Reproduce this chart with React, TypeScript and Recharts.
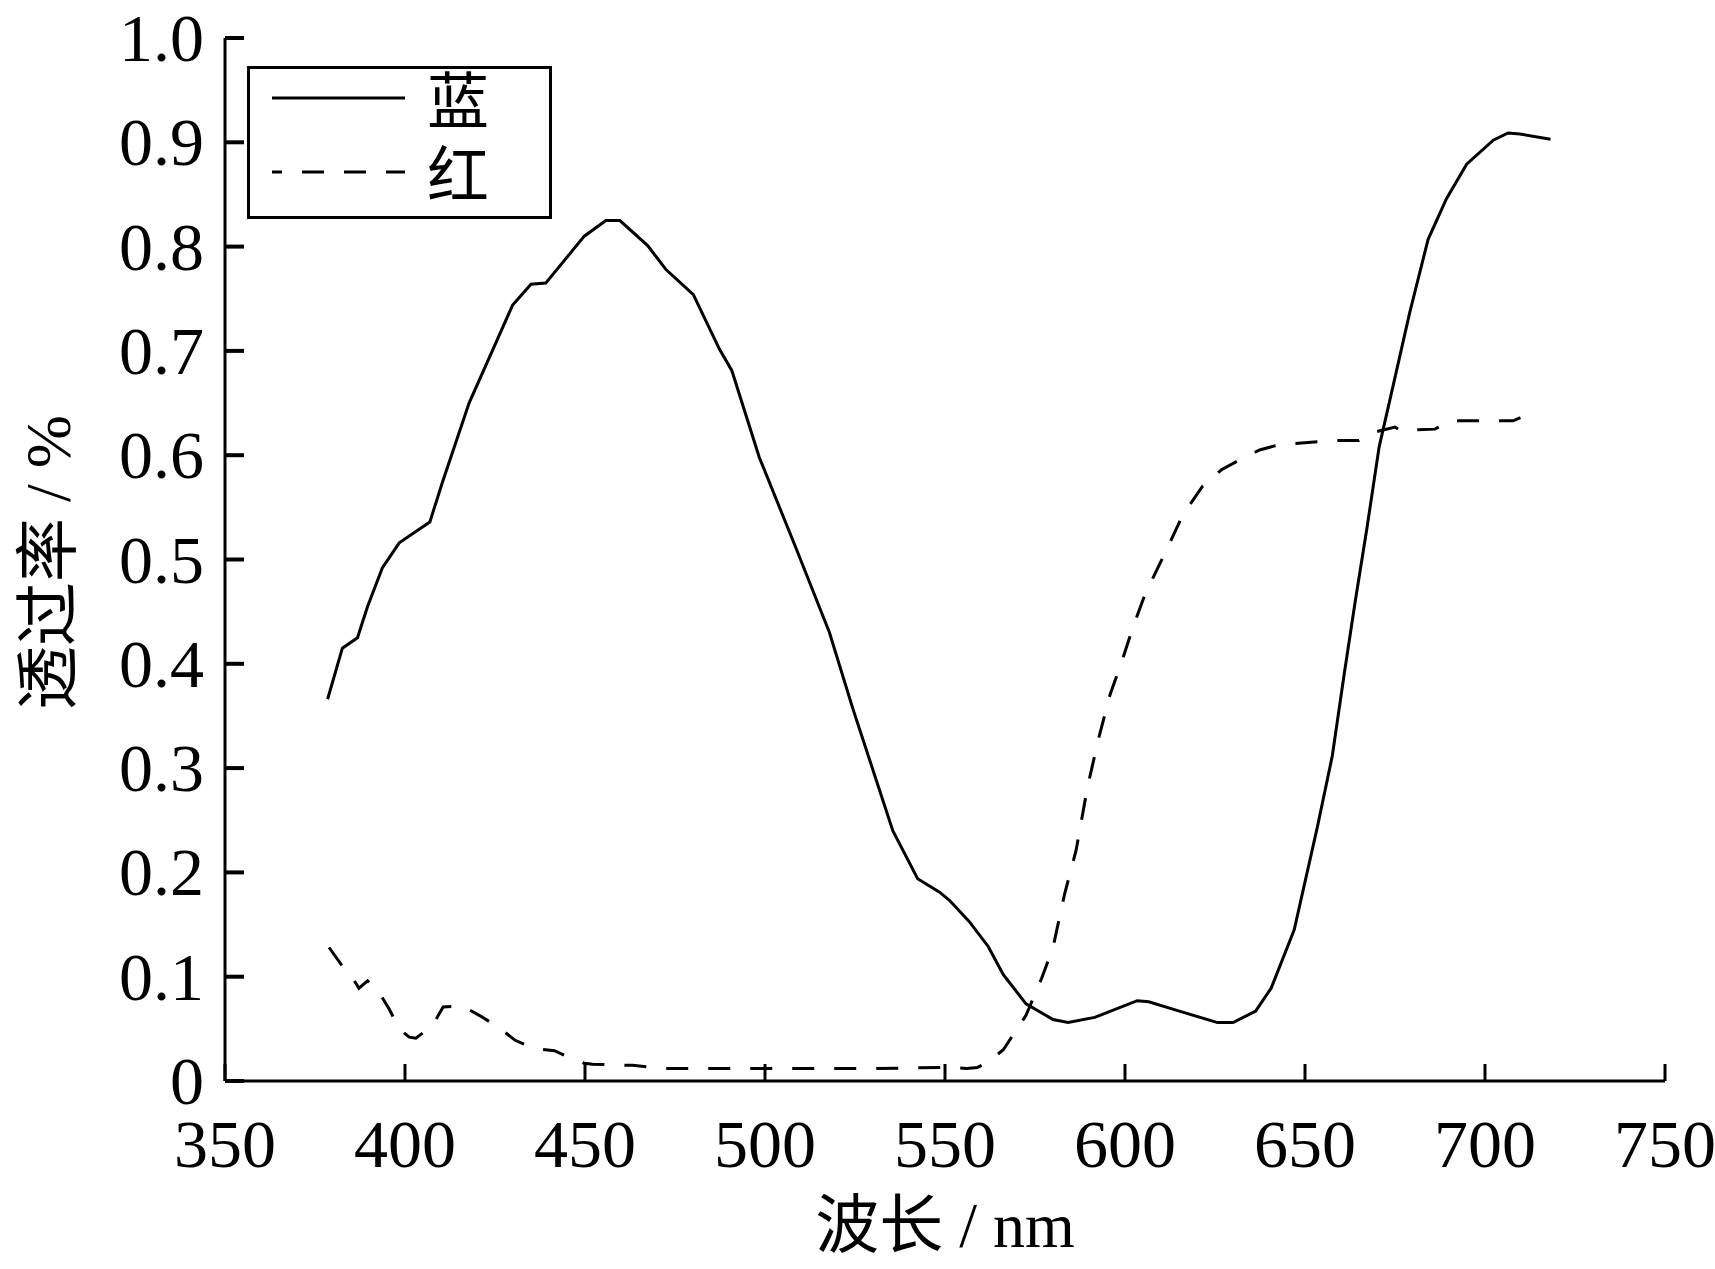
import { Label, Legend, Line, LineChart, XAxis, YAxis } from "recharts";

// wavelength (nm) and transmittance
const blueWavelengths = [
  378.5, 382.6, 386.8, 389.6, 393.7, 398.4, 406.9, 410.4, 417.8, 429.9, 435, 439.1, 449.8, 455.8,
  459.7, 467.4, 472.5, 480.1, 487.3, 490.8, 498.4, 508.6, 517.9, 524.4, 535.5, 542.4, 548.5, 551.3,
  556.7, 562, 566.2, 572.5, 580, 584.2, 591.6, 603.4, 606.6, 615.1, 625.7, 630, 636.3, 640.6, 647,
  653.4, 657.6, 660.8, 664, 667.2, 670.6, 674.5, 679.1, 684.2, 689.3, 694.9, 702.3, 706.4, 709.7,
  718.2,
];
const blueValues = [
  0.366, 0.415, 0.425, 0.455, 0.492, 0.516, 0.536, 0.574, 0.65, 0.744, 0.764, 0.765, 0.81, 0.825,
  0.825, 0.801, 0.778, 0.754, 0.702, 0.681, 0.598, 0.511, 0.43, 0.357, 0.24, 0.194, 0.181, 0.173,
  0.153, 0.129, 0.102, 0.074, 0.059, 0.056, 0.061, 0.077, 0.076, 0.067, 0.056, 0.056, 0.067, 0.089,
  0.145, 0.243, 0.312, 0.388, 0.461, 0.53, 0.608, 0.667, 0.737, 0.807, 0.846, 0.879, 0.902, 0.909,
  0.908, 0.903,
];

const redWavelengths = [
  378.9, 382.2, 385.9, 387.2, 389.6, 392.8, 395.6, 398.4, 401.2, 403, 407.6, 410.6, 416, 421.1,
  426.2, 430.6, 435.9, 441.5, 446.5, 449.8, 452.1, 463.2, 472.5, 481.8, 500, 530, 551.3, 556, 559,
  561.9, 566.2, 572.5, 576.8, 580, 583.2, 586.4, 589.6, 592.7, 595.9, 599.1, 602.3, 605.5, 610.8,
  616.1, 621.5, 626.8, 632.1, 637.4, 642.7, 657.6, 665, 669.3, 675, 676.8, 679.1, 686.1, 690.2,
  700.2, 707.8, 710.6, 712.7,
];
const redValues = [
  0.128, 0.112, 0.096, 0.089, 0.096, 0.085, 0.069, 0.05, 0.042, 0.041, 0.053, 0.071, 0.072, 0.062,
  0.051, 0.039, 0.031, 0.029, 0.021, 0.017, 0.016, 0.015, 0.012, 0.012, 0.012, 0.012, 0.013, 0.012,
  0.013, 0.018, 0.03, 0.063, 0.098, 0.128, 0.179, 0.221, 0.282, 0.329, 0.371, 0.402, 0.436, 0.466,
  0.504, 0.543, 0.57, 0.586, 0.596, 0.605, 0.61, 0.614, 0.614, 0.622, 0.627, 0.623, 0.624, 0.625,
  0.633, 0.633, 0.633, 0.637, 0.633,
];

const seriesNames = ["蓝", "红"];
const xTicks = [350, 400, 450, 500, 550, 600, 650, 700, 750];
const yTicks = [0, 0.1, 0.2, 0.3, 0.4, 0.5, 0.6, 0.7, 0.8, 0.9, 1.0];

const blueData = blueWavelengths.map((x, i) => ({ x, y: blueValues[i] }));
const redData = redWavelengths.map((x, i) => ({ x, y: redValues[i] }));

const SERIF = "'Liberation Serif', 'Times New Roman', 'Noto Sans CJK SC', serif";

const YTick = (props: any) => {
  const { x, y, payload } = props;
  const v = payload.value as number;
  return (
    <g>
      <line x1={x} x2={x + 19} y1={y} y2={y} stroke="#000" strokeWidth={4} />
      <text x={x - 21} y={y + 23} textAnchor="end" fontSize={68} fontFamily={SERIF} fill="#000">
        {v === 0 ? "0" : v.toFixed(1)}
      </text>
    </g>
  );
};

const XTick = (props: any) => {
  const { x, y, payload } = props;
  return (
    <g>
      <line x1={x} x2={x} y1={y} y2={y - 17} stroke="#000" strokeWidth={3} />
      <text x={x} y={y + 86} textAnchor="middle" fontSize={68} fontFamily={SERIF} fill="#000">
        {payload.value}
      </text>
    </g>
  );
};

const LegendBox = (props: any) => {
  const items = [...(props.payload ?? [])].sort(
    (a: any, b: any) => seriesNames.indexOf(a.value) - seriesNames.indexOf(b.value)
  );
  return (
    <svg width={305} height={153} style={{ display: "block" }}>
      <rect x={1.5} y={1.5} width={302} height={150} fill="#fff" stroke="#000" strokeWidth={3} />
      {items.map((item: any, i: number) => {
        const cy = 32 + i * 74;
        return (
          <g key={item.value}>
            <line
              x1={25}
              x2={158}
              y1={cy}
              y2={cy}
              stroke="#000"
              strokeWidth={3}
              strokeDasharray={item.payload?.strokeDasharray}
              strokeDashoffset={12}
            />
            <text x={180} y={cy + 26} fontSize={62} fontFamily={SERIF} fill="#000">
              {item.value}
            </text>
          </g>
        );
      })}
    </svg>
  );
};

export default function App() {
  return (
    <div style={{ position: "absolute", left: 0, top: 0, background: "#fff" }}>
      <LineChart width={1715} height={1269} margin={{ top: 38, right: 50, bottom: 0, left: 0 }}>
        <XAxis
          type="number"
          dataKey="x"
          domain={[350, 750]}
          ticks={xTicks}
          allowDuplicatedCategory={false}
          height={188}
          axisLine={{ stroke: "#000", strokeWidth: 3 }}
          tickLine={false}
          tickSize={0}
          tickMargin={0}
          tick={XTick}
          interval={0}
        >
          <Label
            content={({ viewBox }: any) => (
              <text
                x={viewBox.x + viewBox.width / 2}
                y={viewBox.y + 166}
                textAnchor="middle"
                fontSize={64}
                fontFamily={SERIF}
                fill="#000"
              >
                波长 / nm
              </text>
            )}
          />
        </XAxis>
        <YAxis
          type="number"
          domain={[0, 1]}
          ticks={yTicks}
          width={225}
          axisLine={{ stroke: "#000", strokeWidth: 3 }}
          tickLine={false}
          tickSize={0}
          tickMargin={0}
          tick={YTick}
          interval={0}
        >
          <Label
            content={({ viewBox }: any) => {
              const cx = viewBox.x + 70;
              const cy = viewBox.y + viewBox.height / 2 + 3;
              return (
                <text
                  x={cx}
                  y={cy}
                  transform={`rotate(-90 ${cx} ${cy})`}
                  textAnchor="middle"
                  fontSize={64}
                  fontFamily={SERIF}
                  fill="#000"
                >
                  透过率 / %
                </text>
              );
            }}
          />
        </YAxis>
        <Legend
          layout="vertical"
          align="center"
          verticalAlign="middle"
          content={LegendBox}
          wrapperStyle={{ left: 247, top: 66, width: 305, height: 153 }}
        />
        <Line
          data={blueData}
          dataKey="y"
          name={seriesNames[0]}
          type="linear"
          stroke="#000"
          strokeWidth={3}
          dot={false}
          activeDot={false}
          isAnimationActive={false}
        />
        <Line
          data={redData}
          dataKey="y"
          name={seriesNames[1]}
          type="linear"
          stroke="#000"
          strokeWidth={3}
          strokeDasharray="22 20"
          dot={false}
          activeDot={false}
          isAnimationActive={false}
        />
      </LineChart>
    </div>
  );
}
